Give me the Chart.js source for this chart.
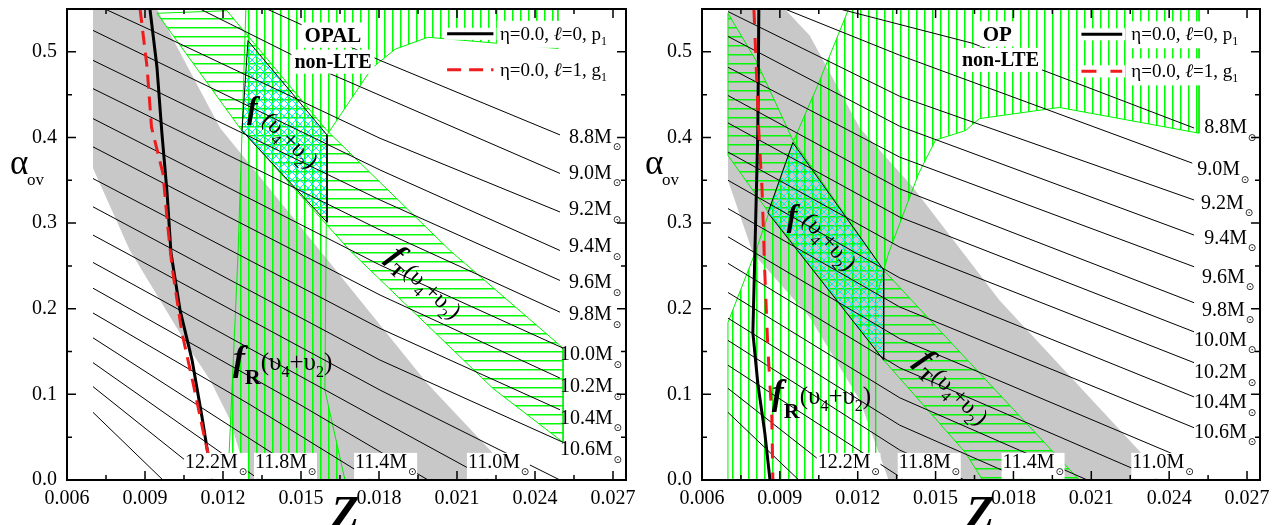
<!DOCTYPE html>
<html>
<head>
<meta charset="utf-8">
<title>OPAL / OP non-LTE</title>
<script src="https://cdn.jsdelivr.net/npm/chart.js@4.4.1/dist/chart.umd.min.js"></script>
<style>
  html, body { margin:0; padding:0; background:#fff; overflow:hidden; }
  #wrap { position:relative; width:1272px; height:525px; background:#fff; }
  canvas { position:absolute; top:0; }
</style>
</head>
<body>
<div id="wrap">
  <canvas id="opalChart" width="636" height="525" style="left:0"></canvas>
  <canvas id="opChart" width="636" height="525" style="left:636px"></canvas>
</div>
<script>
// ================= values =================
const xTickValues = [0.006, 0.009, 0.012, 0.015, 0.018, 0.021, 0.024, 0.027];
const yTickValues = [0.0, 0.1, 0.2, 0.3, 0.4, 0.5];
const trackMasses = ['8.8','9.0','9.2','9.4','9.6','9.8','10.0','10.2','10.4','10.6','10.8','11.0','11.2','11.4','11.6','11.8','12.0','12.2'];
const sideLabelMasses = ['8.8','9.0','9.2','9.4','9.6','9.8','10.0','10.2','10.4','10.6'];
const bottomLabelMasses = ['12.2','11.8','11.4','11.0'];

// ---- OPAL panel: [Z, alpha_ov] ----
const opalTracks = [
  [[0.01369,0.55],[0.01804,0.490],[0.02496,0.403]],
  [[0.01112,0.55],[0.01600,0.476],[0.02496,0.358]],
  [[0.00746,0.55],[0.00946,0.522],[0.01804,0.399],[0.02496,0.313]],
  [[0.007,0.525],[0.01804,0.362],[0.02496,0.268]],
  [[0.007,0.490],[0.01804,0.327],[0.02496,0.233]],
  [[0.007,0.457],[0.01804,0.292],[0.02496,0.196]],
  [[0.007,0.422],[0.01804,0.251],[0.02508,0.154]],
  [[0.007,0.389],[0.01804,0.216],[0.02496,0.119]],
  [[0.007,0.352],[0.01804,0.177],[0.02496,0.082]],
  [[0.007,0.319],[0.01804,0.140],[0.02508,0.044]],
  [[0.007,0.286],[0.01804,0.105],[0.02496,0.0]],
  [[0.007,0.254],[0.01804,0.070],[0.02227,0.0]],
  [[0.007,0.224],[0.01496,0.088],[0.01989,0.0]],
  [[0.007,0.195],[0.01304,0.088],[0.01773,0.0]],
  [[0.007,0.166],[0.01550,0.0]],
  [[0.007,0.137],[0.01342,0.0]],
  [[0.007,0.109],[0.01150,0.0]],
  [[0.007,0.079],[0.00969,0.0]]
];
const opalP1 = [[0.00919,0.55],[0.00946,0.482],[0.00965,0.405],[0.00985,0.335],[0.01000,0.265],[0.01035,0.198],[0.01081,0.140],[0.01119,0.074],[0.01158,0.0]];
const opalG1 = [[0.00881,0.55],[0.00908,0.482],[0.00925,0.412],[0.00969,0.358],[0.00988,0.295],[0.01004,0.249],[0.01042,0.172],[0.01085,0.113],[0.01123,0.058],[0.01165,0.0]];
const opalGrayBand = [[0.007,0.55],[0.00946,0.55],[0.01189,0.411],[0.01573,0.268],[0.01985,0.113],[0.02335,0.0],[0.01296,0.0],[0.01227,0.070],[0.01150,0.117],[0.01073,0.152],[0.00958,0.210],[0.00842,0.268],[0.007,0.364],[0.007,0.55]];
const opalFR = [[0.01288,0.55],[0.02488,0.55],[0.02488,0.504],[0.02254,0.510],[0.01988,0.517],[0.01862,0.503],[0.01773,0.481],[0.01600,0.403],[0.01592,0.105],[0.01669,0.0],[0.01219,0.0],[0.01258,0.265],[0.01273,0.405],[0.01288,0.55]];
const opalFT = [[0.00946,0.545],[0.01215,0.548],[0.01600,0.408],[0.02073,0.268],[0.02508,0.154],[0.02508,0.044],[0.02238,0.107],[0.01688,0.268],[0.01265,0.411],[0.00946,0.545]];
const opalFTR = [[0.01296,0.513],[0.01600,0.403],[0.01600,0.301],[0.01273,0.408],[0.01296,0.513]];

// ---- OP panel ----
const opTracks = [
  [[0.01131,0.55],[0.01642,0.510],[0.02496,0.411]],
  [[0.00919,0.55],[0.01362,0.496],[0.02489,0.370]],
  [[0.007,0.547],[0.01362,0.448],[0.02496,0.327]],
  [[0.007,0.518],[0.01362,0.413],[0.02496,0.286]],
  [[0.007,0.482],[0.01362,0.377],[0.02496,0.249]],
  [[0.007,0.449],[0.01362,0.340],[0.02496,0.207]],
  [[0.007,0.417],[0.01362,0.307],[0.02496,0.173]],
  [[0.007,0.383],[0.01362,0.272],[0.02496,0.137]],
  [[0.007,0.350],[0.01362,0.236],[0.02496,0.097]],
  [[0.007,0.317],[0.01362,0.202],[0.02496,0.061]],
  [[0.007,0.284],[0.01362,0.165],[0.02496,0.020]],
  [[0.007,0.253],[0.01362,0.131],[0.02362,0.0]],
  [[0.007,0.219],[0.01362,0.096],[0.02085,0.0]],
  [[0.007,0.189],[0.01362,0.064],[0.01842,0.0]],
  [[0.007,0.163],[0.01362,0.035],[0.01612,0.0]],
  [[0.007,0.134],[0.01381,0.0]],
  [[0.007,0.107],[0.01150,0.0]],
  [[0.007,0.079],[0.00973,0.0]]
];
const opP1 = [[0.00819,0.55],[0.00815,0.405],[0.00804,0.268],[0.00796,0.172],[0.00815,0.113],[0.00842,0.055],[0.00862,0.0]];
const opG1 = [[0.00800,0.55],[0.00808,0.490],[0.00819,0.405],[0.00831,0.342],[0.00838,0.280],[0.00840,0.257],[0.00854,0.152],[0.00869,0.074],[0.00873,0.0]];
const opGrayBand = [[0.007,0.55],[0.00919,0.55],[0.01015,0.519],[0.01208,0.411],[0.01412,0.342],[0.01746,0.210],[0.02389,0.0],[0.01319,0.0],[0.01208,0.093],[0.01015,0.190],[0.00796,0.265],[0.007,0.350],[0.007,0.55]];
const opFR = [[0.007,0.0],[0.007,0.184],[0.00808,0.268],[0.00950,0.394],[0.01046,0.461],[0.01165,0.55],[0.02515,0.55],[0.02515,0.405],[0.01977,0.435],[0.01669,0.422],[0.01615,0.408],[0.01500,0.397],[0.01435,0.358],[0.01319,0.265],[0.01269,0.210],[0.01269,0.0],[0.007,0.0]];
const opFT = [[0.007,0.545],[0.00808,0.490],[0.00950,0.397],[0.01300,0.245],[0.01515,0.175],[0.02054,0.0],[0.01681,0.0],[0.01615,0.032],[0.01300,0.140],[0.00858,0.312],[0.007,0.379],[0.007,0.545]];
const opFTR = [[0.00950,0.394],[0.01300,0.245],[0.01300,0.140],[0.00854,0.312],[0.00950,0.394]];

// ================= layout / style configuration =================
const SERIF = "'Liberation Serif', 'Times New Roman', serif";
const fontStr = (style, size) => (style ? style + ' ' : '') + size + 'px ' + SERIF;

function hatch(kind) {
  const c = document.createElement('canvas');
  c.width = 8; c.height = (kind === 'h') ? 9 : 8;
  const g = c.getContext('2d');
  if (kind === 'v') { g.fillStyle = '#00ff00'; g.fillRect(0,0,1,8); g.fillStyle = 'rgba(0,230,0,0.45)'; g.fillRect(1,0,1,8); }
  if (kind === 'h') { g.fillStyle = '#00ff00'; g.fillRect(0,0,8,1); g.fillStyle = 'rgba(0,230,0,0.45)'; g.fillRect(0,1,8,1); }
  if (kind === 'x') { g.strokeStyle = '#00eeee'; g.lineWidth = 1; g.beginPath(); g.moveTo(0,0); g.lineTo(8,8); g.moveTo(8,0); g.lineTo(0,8); g.stroke(); }
  return g.createPattern(c, 'repeat');
}
const PAT_V = hatch('v'), PAT_H = hatch('h'), PAT_X = hatch('x');

const panels = [
  { canvas:'opalChart', tracks:opalTracks, p1:opalP1, g1:opalG1, band:opalGrayBand, fR:opalFR, fT:opalFT, fX:opalFTR,
    yAxisWidth:67, padRight:10, dash:[14,8],
    sideLabelPos:[[0.02531,0.400],[0.02531,0.358],[0.02531,0.315],[0.02531,0.272],[0.02531,0.230],[0.02531,0.1925],[0.02496,0.146],[0.02496,0.1085],[0.02496,0.072],[0.02496,0.035]],
    bottomLabelPos:[[0.01054,0.020],[0.01323,0.020],[0.01708,0.020],[0.02142,0.020]],
    titles:[{t:'OPAL', at:[0.01623,0.519], size:21},{t:'non-LTE', at:[0.01623,0.488], size:20}],
    legend:{x0:0.02062, x1:0.02240, tx:0.02265, y:[0.521,0.479]},
    fXLabel:{f:[0.01292,0.4224], br:[0.01346,0.4189], rot:45},
    fTLabel:{at:[0.01827,0.259], rot:43},
    fRLabel:{at:[0.01238,0.1284]} },
  { canvas:'opChart', tracks:opTracks, p1:opP1, g1:opG1, band:opGrayBand, fR:opFR, fT:opFT, fX:opFTR,
    yAxisWidth:66, padRight:12, dash:[15,14],
    sideLabelPos:[[0.02535,0.411],[0.02508,0.362],[0.02523,0.323],[0.02535,0.282],[0.02527,0.236],[0.02527,0.198],[0.02496,0.163],[0.02496,0.125],[0.02496,0.090],[0.02496,0.055]],
    bottomLabelPos:[[0.01046,0.020],[0.01358,0.020],[0.01758,0.020],[0.02258,0.020]],
    titles:[{t:'OP', at:[0.01738,0.5204], size:21},{t:'non-LTE', at:[0.01750,0.4901], size:20}],
    legend:{x0:0.02062, x1:0.02219, tx:0.02254, y:[0.5204,0.4772]},
    fXLabel:{f:[0.00927,0.2964], br:[0.00981,0.3022], rot:48},
    fTLabel:{at:[0.01419,0.1377], rot:45},
    fRLabel:{at:[0.00869,0.0887]} }
];

function drawParts(ctx, x, y, angle, parts) {
  ctx.save();
  ctx.translate(x, y);
  ctx.rotate(angle * Math.PI / 180);
  ctx.textAlign = 'left'; ctx.textBaseline = 'alphabetic';
  let cx = 0;
  for (const p of parts) {
    ctx.font = p.f;
    ctx.fillText(p.t, cx, p.dy || 0);
    cx += ctx.measureText(p.t).width;
  }
  ctx.restore();
}
function bracketParts(size) {
  const sub = Math.round(size * 0.62), dy = Math.round(size * 0.28);
  return [
    {t:'(υ', f:fontStr('', size)},
    {t:'4', f:fontStr('', sub), dy},
    {t:'+υ', f:fontStr('', size)},
    {t:'2', f:fontStr('', sub), dy},
    {t:')', f:fontStr('', size)}
  ];
}
function massLabel(ctx, m, px, py, bg) {
  ctx.font = fontStr('', 20);
  ctx.textAlign = 'left'; ctx.textBaseline = 'middle';
  const t = m + 'M';
  const w = ctx.measureText(t).width;
  if (bg) { ctx.fillStyle = '#fff'; ctx.fillRect(px - 1, py - 10, w + 11, 26); }
  ctx.fillStyle = '#000';
  ctx.fillText(t, px, py);
  ctx.font = "10px 'DejaVu Sans'";
  ctx.textAlign = 'center';
  ctx.fillText('\u2299', px + w + 5, py + 10);
}

function annotationPlugin(p) {
  return {
    id: 'annot',
    afterDatasetsDraw(chart) {
      const {ctx, scales:{x, y}} = chart;
      const X = v => x.getPixelForValue(v), Y = v => y.getPixelForValue(v);
      ctx.save();
      ctx.fillStyle = '#000';
      // f labels
      drawParts(ctx, X(p.fXLabel.f[0]), Y(p.fXLabel.f[1]), 0, [{t:'f', f:fontStr('italic bold', 32)}]);
      drawParts(ctx, X(p.fXLabel.br[0]), Y(p.fXLabel.br[1]), p.fXLabel.rot, bracketParts(24));
      drawParts(ctx, X(p.fTLabel.at[0]), Y(p.fTLabel.at[1]), p.fTLabel.rot,
        [{t:'f', f:fontStr('italic bold', 32)}, {t:'T', f:fontStr('bold', 18), dy:8}].concat(bracketParts(24)));
      drawParts(ctx, X(p.fRLabel.at[0]), Y(p.fRLabel.at[1]), 0,
        [{t:'f', f:fontStr('italic bold', 36)}, {t:'R', f:fontStr('bold', 22), dy:14}].concat(bracketParts(25)));
      // mass labels
      sideLabelMasses.forEach((m, i) => massLabel(ctx, m, X(p.sideLabelPos[i][0]), Y(p.sideLabelPos[i][1]), false));
      bottomLabelMasses.forEach((m, i) => massLabel(ctx, m, X(p.bottomLabelPos[i][0]), Y(p.bottomLabelPos[i][1]), true));
      // titles with white box
      for (const tt of p.titles) {
        ctx.font = fontStr('bold', tt.size);
        const w = ctx.measureText(tt.t).width;
        const cx = X(tt.at[0]), cy = Y(tt.at[1]);
        ctx.fillStyle = '#fff';
        ctx.fillRect(cx - w/2 - 3, cy - tt.size*0.62, w + 6, tt.size*1.2);
        ctx.fillStyle = '#000'; ctx.textAlign = 'center'; ctx.textBaseline = 'middle';
        ctx.fillText(tt.t, cx, cy + 1);
      }
      // legend
      const L = p.legend;
      const entries = [
        {parts:[{t:'η=0.0, ', f:fontStr('',19)},{t:'ℓ', f:fontStr('italic',19)},{t:'=0, p', f:fontStr('',19)},{t:'1', f:fontStr('',12), dy:5}], color:'#000', dash:[]},
        {parts:[{t:'η=0.0, ', f:fontStr('',19)},{t:'ℓ', f:fontStr('italic',19)},{t:'=1, g', f:fontStr('',19)},{t:'1', f:fontStr('',12), dy:5}], color:'#ee1c1c', dash:p.dash}
      ];
      entries.forEach((e, i) => {
        const ly = Y(L.y[i]), x0 = X(L.x0), x1 = X(L.x1), tx = X(L.tx);
        let w = 0; for (const q of e.parts) { ctx.font = q.f; w += ctx.measureText(q.t).width; }
        ctx.fillStyle = '#fff';
        ctx.fillRect(x0 - 3, ly - 6, x1 - x0 + 6, 12);
        ctx.fillRect(tx - 3, ly - 13, w + 6, 27);
        ctx.strokeStyle = e.color; ctx.lineWidth = 3; ctx.setLineDash(e.dash);
        ctx.beginPath(); ctx.moveTo(x0, ly); ctx.lineTo(x1, ly); ctx.stroke();
        ctx.setLineDash([]);
        ctx.fillStyle = '#000';
        drawParts(ctx, tx, ly + 6, 0, e.parts);
      });
      ctx.restore();
    },
    afterDraw(chart) {
      const {ctx, chartArea:a, scales:{x, y}} = chart;
      ctx.save();
      ctx.strokeStyle = '#000';
      ctx.lineWidth = 1.5;
      ctx.beginPath();
      xTickValues.forEach((v, i) => {
        const px = x.getPixelForValue(v);
        ctx.moveTo(px, a.bottom); ctx.lineTo(px, a.bottom - 9);
        ctx.moveTo(px, a.top); ctx.lineTo(px, a.top + 9);
        const mv = (i < xTickValues.length - 1) ? (v + xTickValues[i+1]) / 2 : v + (v - xTickValues[i-1]) / 2;
        if (mv < x.max) {
          const mx = x.getPixelForValue(mv);
          ctx.moveTo(mx, a.bottom); ctx.lineTo(mx, a.bottom - 5);
          ctx.moveTo(mx, a.top); ctx.lineTo(mx, a.top + 5);
        }
      });
      yTickValues.forEach((v, i) => {
        const py = y.getPixelForValue(v);
        ctx.moveTo(a.left, py); ctx.lineTo(a.left + 9, py);
        ctx.moveTo(a.right, py); ctx.lineTo(a.right - 9, py);
        const mv = (i < yTickValues.length - 1) ? (v + yTickValues[i+1]) / 2 : v + (v - yTickValues[i-1]) / 2;
        if (mv < y.max - 1e-9) {
          const my = y.getPixelForValue(mv);
          ctx.moveTo(a.left, my); ctx.lineTo(a.left + 5, my);
          ctx.moveTo(a.right, my); ctx.lineTo(a.right - 5, my);
        }
      });
      ctx.stroke();
      ctx.lineWidth = 2;
      ctx.strokeRect(a.left, a.top, a.right - a.left, a.bottom - a.top);
      // axis titles
      ctx.fillStyle = '#000'; ctx.textAlign = 'left'; ctx.textBaseline = 'alphabetic';
      ctx.font = fontStr('', 35);
      ctx.fillText('α', a.left - 57, a.top + 165);
      ctx.font = fontStr('', 17);
      ctx.fillText('ov', a.left - 40, a.top + 176);
      ctx.font = fontStr('italic bold', 46);
      ctx.fillText('Z', a.left + 264, a.bottom + 48);
      ctx.restore();
    }
  };
}

function buildDatasets(p) {
  const pts = arr => arr.map(([x, y]) => ({x, y}));
  const base = {pointRadius:0, pointHoverRadius:0, tension:0};
  const ds = [];
  ds.push(Object.assign({label:'band', data:pts(p.band), borderColor:'rgba(0,0,0,0)', borderWidth:0, backgroundColor:'#c8c8c8', fill:'shape', order:10}, base));
  ds.push(Object.assign({label:'fR', data:pts(p.fR), borderColor:'#00f000', borderWidth:1, backgroundColor:PAT_V, fill:'shape', order:9}, base));
  ds.push(Object.assign({label:'fT', data:pts(p.fT), borderColor:'#00f000', borderWidth:1, backgroundColor:PAT_H, fill:'shape', order:8}, base));
  ds.push(Object.assign({label:'fTR', data:pts(p.fX), borderColor:'#000', borderWidth:1, backgroundColor:PAT_X, fill:'shape', order:7}, base));
  p.tracks.forEach((t, i) => ds.push(Object.assign({label:trackMasses[i] + ' Msun', data:pts(t), borderColor:'#000', borderWidth:1, fill:false, order:5}, base)));
  ds.push(Object.assign({label:'η=0.0, ℓ=0, p1', data:pts(p.p1), borderColor:'#000', borderWidth:3, fill:false, order:2}, base));
  ds.push(Object.assign({label:'η=0.0, ℓ=1, g1', data:pts(p.g1), borderColor:'#ee1c1c', borderWidth:3, borderDash:p.dash, fill:false, order:1}, base));
  return ds;
}

panels.forEach(p => {
  new Chart(document.getElementById(p.canvas), {
    type:'line',
    data:{datasets:buildDatasets(p)},
    options:{
      responsive:false, animation:false, devicePixelRatio:1, events:[],
      layout:{padding:{left:0, right:p.padRight, top:9, bottom:0}},
      plugins:{legend:{display:false}, tooltip:{enabled:false}},
      scales:{
        x:{type:'linear', min:0.006, max:0.0275,
           afterBuildTicks:s => { s.ticks = xTickValues.map(v => ({value:v})); },
           afterFit:s => { s.height = 45; s.paddingLeft = 0; s.paddingRight = 0; },
           grid:{display:false, drawTicks:false}, border:{display:false},
           ticks:{font:{family:SERIF, size:20}, color:'#000', padding:7, maxRotation:0, autoSkip:false, callback:v => Number(v).toFixed(3)}},
        y:{type:'linear', min:0, max:0.55,
           afterBuildTicks:s => { s.ticks = yTickValues.map(v => ({value:v})); },
           afterFit:s => { s.width = p.yAxisWidth; s.paddingTop = 0; s.paddingBottom = 0; },
           grid:{display:false, drawTicks:false}, border:{display:false},
           ticks:{font:{family:SERIF, size:20}, color:'#000', padding:10, callback:v => Number(v).toFixed(1)}}
      }
    },
    plugins:[annotationPlugin(p)]
  });
});
</script>
</body>
</html>
